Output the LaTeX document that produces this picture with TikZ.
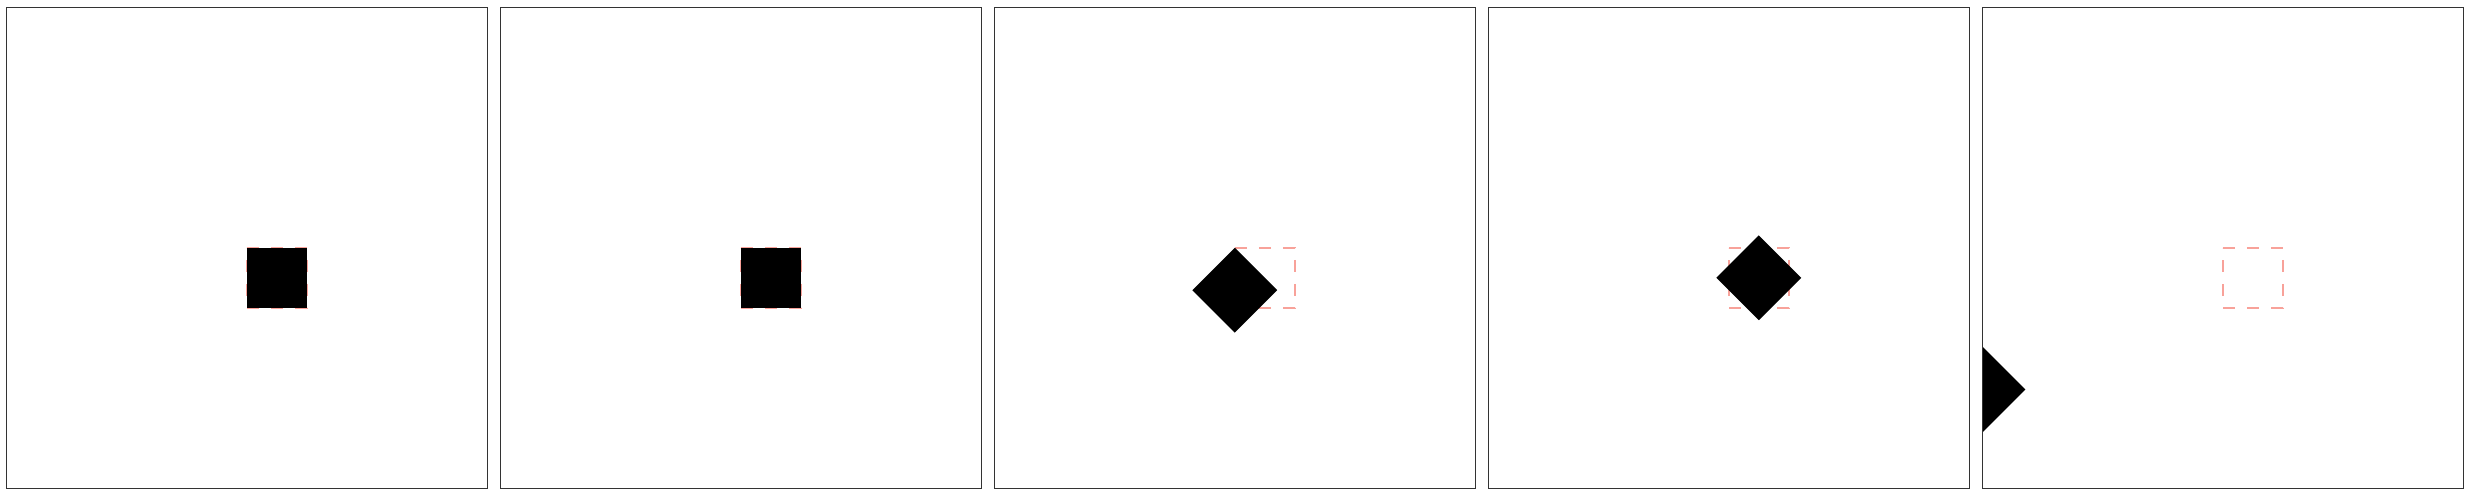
\documentclass[tikz,border=0pt]{standalone}
\definecolor{bordergray}{HTML}{333333}
\definecolor{ghostred}{HTML}{F8A29A}
\tikzset{
  panel/.style={draw=bordergray, line width=0.65pt},
  ghost/.style={draw=ghostred, line width=1.2pt, dash pattern=on 6pt off 6pt},
  solidshape/.style={fill=black, draw=none}
}
\newcommand{\ghostbox}[2]{\draw[ghost] (#1,#2) -- ++(60,0) -- ++(0,60) -- ++(-60,0) -- cycle;}
\begin{document}
\begin{tikzpicture}[x=0.5pt, y=-0.5pt]
\useasboundingbox (0,0) rectangle (2474,495);
% panels
\foreach \i in {0,...,4} {
  \pgfmathsetmacro{\L}{6.3+494*\i}
  \draw[panel] (\L,7.3) rectangle ++(481,481);
}
% panel 1
\ghostbox{246.8}{247.8}
\fill[solidshape] (246.8,247.8) rectangle ++(60,60);
% panel 2
\ghostbox{740.8}{247.8}
\fill[solidshape] (740.8,247.8) rectangle ++(60,60);
% panel 3: rotate 45 about top-left
\ghostbox{1234.8}{247.8}
\fill[solidshape] (1234.8,247.8) -- ++(42.43,42.43) -- ++(-42.43,42.43) -- ++(-42.43,-42.43) -- cycle;
% panel 4: rotate 45 about centre
\ghostbox{1728.8}{247.8}
\fill[solidshape] (1758.8,235.37) -- (1801.23,277.8) -- (1758.8,320.23) -- (1716.37,277.8) -- cycle;
% panel 5: translated, clipped
\ghostbox{2222.8}{247.8}
\begin{scope}
  \clip (1982.3,7.3) rectangle ++(481,481);
  \fill[solidshape] (1983,347.07) -- (2025.43,389.5) -- (1983,431.93) -- (1940.57,389.5) -- cycle;
\end{scope}
\draw[panel] (1982.3,7.3) rectangle ++(481,481);
\end{tikzpicture}
\end{document}
